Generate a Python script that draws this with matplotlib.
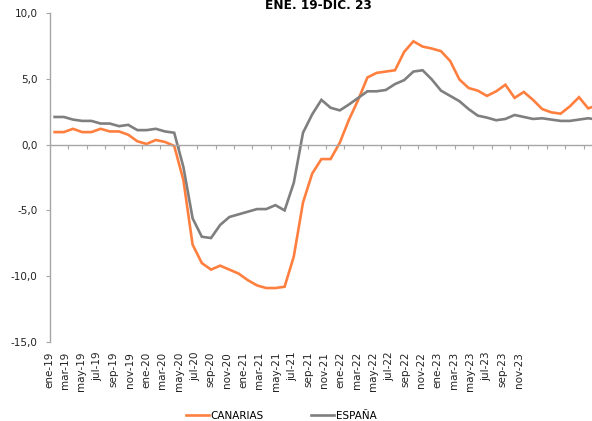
import numpy as np
import matplotlib
matplotlib.use("Agg")
import matplotlib.pyplot as plt

# Monthly series, ene-19 .. dic-23
months = [f"{m}-{y}" for y in ["19", "20", "21", "22", "23"]
          for m in ["ene", "feb", "mar", "abr", "may", "jun",
                    "jul", "ago", "sep", "oct", "nov", "dic"]]

canarias = [0.95, 0.95, 1.2, 0.95, 0.95, 1.2, 1.0, 1.0, 0.75, 0.25, 0.05, 0.35,
            0.2, -0.1, -2.7, -7.6, -9.0, -9.5, -9.2, -9.5, -9.8, -10.3, -10.7, -10.9,
            -10.9, -10.8, -8.5, -4.4, -2.2, -1.1, -1.1, 0.15, 1.9, 3.4, 5.1, 5.45,
            5.55, 5.65, 7.05, 7.85, 7.45, 7.3, 7.1, 6.35, 4.95, 4.3, 4.1, 3.7,
            4.05, 4.55, 3.55, 4.0, 3.4, 2.7, 2.45, 2.35, 2.9, 3.6, 2.75, 3.0]

espana = [2.1, 2.1, 1.9, 1.8, 1.8, 1.6, 1.6, 1.4, 1.5, 1.1, 1.1, 1.2,
          1.0, 0.9, -1.7, -5.6, -7.0, -7.1, -6.1, -5.5, -5.3, -5.1, -4.9, -4.9,
          -4.6, -5.0, -2.9, 0.9, 2.3, 3.4, 2.8, 2.6, 3.05, 3.55, 4.05, 4.05,
          4.15, 4.6, 4.9, 5.55, 5.65, 4.95, 4.1, 3.7, 3.3, 2.7, 2.2, 2.05,
          1.85, 1.95, 2.25, 2.1, 1.95, 2.0, 1.9, 1.8, 1.8, 1.9, 2.0, 1.9]

tick_labels = months[::2]

ORANGE = "#FF7F3F"
GREY = "#7F7F7F"
AXIS = "#A6A6A6"

plt.rcParams['font.family'] = ['DejaVu Sans']

fig = plt.figure(figsize=(5.92, 4.21), dpi=100)
# axis runs a bit past the right edge, as in the cropped original
ax = fig.add_axes([50 / 592, 79 / 421, 552 / 592, 329 / 421])

x = np.arange(len(months))
ax.plot(x, canarias, color=ORANGE, lw=1.9, solid_joinstyle='miter', label="CANARIAS")
ax.plot(x, espana, color=GREY, lw=1.9, solid_joinstyle='miter', label="ESPAÑA")

ax.set_xlim(-0.5, len(months) - 0.5)
ax.set_ylim(-15, 10)
ax.set_yticks([-15, -10, -5, 0, 5, 10])
ax.set_yticklabels([f"{v:.1f}".replace(".", ",") for v in [-15, -10, -5, 0, 5, 10]],
                   fontsize=7.5, color="#222222")
ax.tick_params(axis='y', direction='out', length=3, width=0.8, color=AXIS, pad=6)

for s in ["top", "right"]:
    ax.spines[s].set_visible(False)
ax.spines["left"].set_color(AXIS)
ax.spines["left"].set_linewidth(1.0)
ax.spines["bottom"].set_position(("data", 0))
ax.spines["bottom"].set_color(AXIS)
ax.spines["bottom"].set_linewidth(1.0)
ax.set_xticks(np.arange(1.5, len(months), 2))
ax.tick_params(axis='x', direction='out', length=3, width=0.8, color=AXIS,
               labelbottom=False)

# category labels sit below the plot area, spaced like the original
label_step = 1.76
label_pos = -0.61 + label_step * np.arange(len(tick_labels))
for p, lab in zip(label_pos, tick_labels):
    ax.text(p, -0.03, lab, transform=ax.get_xaxis_transform(), rotation=90,
            ha='center', va='top', fontsize=7.5, color="#222222")

fig.text(318 / 592, 1 - 9 / 421, "ENE. 19-DIC. 23", ha='center', va='baseline',
         fontsize=8.7, fontweight='bold')

fig.legend(loc='center', bbox_to_anchor=(0.475, 1 - 416 / 421), ncol=2, frameon=False,
           fontsize=7.5, handlelength=2.2, handletextpad=0.2, columnspacing=4.5)

fig.savefig("out.png", dpi=100)
